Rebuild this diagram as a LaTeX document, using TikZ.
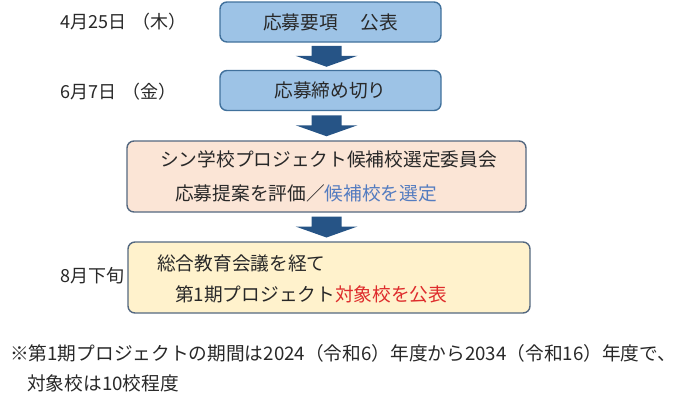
\documentclass[tikz,border=0pt]{standalone}
\usepackage{fontspec}
\setmainfont{Noto Sans CJK JP}
\usetikzlibrary{calc}
\definecolor{boxblue}{RGB}{157,195,230}
\definecolor{edgeblue}{RGB}{65,113,156}
\definecolor{peach}{RGB}{251,229,214}
\definecolor{cream}{RGB}{255,242,204}
\definecolor{edgegray}{RGB}{84,104,128}
\definecolor{arrowblue}{RGB}{38,84,134}
\definecolor{txt}{RGB}{40,40,40}
\definecolor{bluetxt}{RGB}{84,124,192}
\definecolor{redtxt}{RGB}{222,44,44}
\tikzset{
  x=1pt, y=-1pt,
  stepbox/.style={draw=edgeblue, line width=1.4pt, rounded corners=7pt, inner sep=0pt},
  bluebox/.style={stepbox, fill=boxblue, minimum width=221pt, minimum height=40pt},
  lbl/.style={font=\fontsize{18.7}{20}\selectfont, text=txt, inner sep=0pt},
  datelbl/.style={font=\fontsize{18}{20}\selectfont, text=txt, inner sep=0pt, anchor=west},
  blockarrow/.style={fill=arrowblue, draw=none},
}
\begin{document}
\begin{tikzpicture}
\useasboundingbox (0,0) rectangle (690,402);
% boxes
\node[bluebox] (b1) at (330.5,22) {};
\node[bluebox] (b2) at (330.5,90.5) {};
\node[stepbox, draw=edgegray, fill=peach, minimum width=399pt, minimum height=71pt] (b3) at (326.5,176.5) {};
\node[stepbox, draw=edgegray, fill=cream, minimum width=402pt, minimum height=71pt] (b4) at (329,277.5) {};
% box texts
\node[lbl] (t1) at (b1.center) {応募要項\hspace{4pt}　公表};
\node[lbl] (t2) at (b2.center) {応募締め切り};
\node[lbl, anchor=west] (t3a) at (160,159) {シン学校プロジェクト候補校選定委員会};
\node[lbl, anchor=west] (t3b) at (175,193) {応募提案を評価／\textcolor{bluetxt}{候補校を選定}};
\node[lbl, anchor=west] (t4a) at (157,263) {総合教育会議を経て};
\node[lbl, anchor=west] (t4b) at (175,294) {第1期プロジェクト\textcolor{redtxt}{対象校を公表}};
% dates
\node[datelbl] (d1) at (60,22) {4月25日\hspace{6pt}（木）};
\node[datelbl] (d2) at (60,92) {6月7日\hspace{6pt}（金）};
\node[datelbl] (d3) at (60,276) {8月下旬};
% arrows
\foreach \a/\b in {b1/b2, b2/b3, b3/b4}{
  \coordinate (m) at ($(b3.center|-\a.south)!0.5!(b3.center|-\b.north)$);
  \fill[blockarrow] ($(m)+(-15,-10.5)$) -- ($(m)+(15,-10.5)$) -- ($(m)+(15,-0.5)$) -- ($(m)+(31,-0.5)$)
     -- ($(m)+(0,10.5)$) -- ($(m)+(-31,-0.5)$) -- ($(m)+(-15,-0.5)$) -- cycle;
}
% footnote
\node[lbl, anchor=west] (n1) at (10,353) {※第1期プロジェクトの期間は2024（令和6）年度から2034（令和16）年度で、};
\node[lbl, anchor=west] (n2) at (27,383) {対象校は10校程度};
\end{tikzpicture}
\end{document}
